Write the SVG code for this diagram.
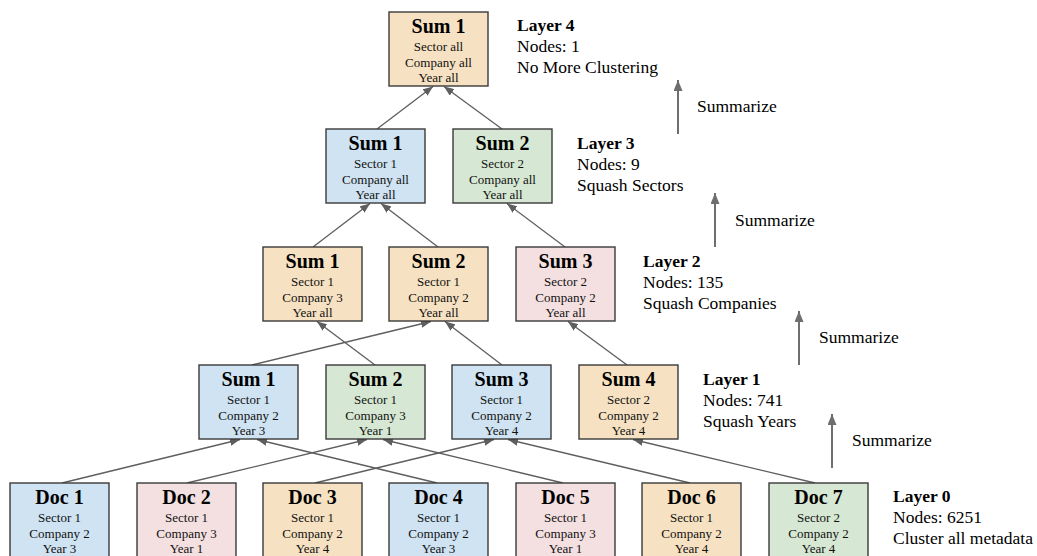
<svg xmlns="http://www.w3.org/2000/svg" width="1037" height="556" viewBox="0 0 1037 556">
<style>
.box{stroke:#3a3a3a;stroke-width:1.4}
.blue{fill:#cfe3f2}
.green{fill:#d6e8d3}
.orange{fill:#f6e2c2}
.pink{fill:#f4e0e1}
.t{font-family:"Liberation Serif","Times New Roman",serif;font-weight:bold;font-size:20px;fill:#000;text-anchor:middle}
.s{font-family:"Liberation Serif","Times New Roman",serif;font-size:13px;fill:#111;text-anchor:middle}
.lb{font-family:"Liberation Serif","Times New Roman",serif;font-size:17.5px;fill:#000}
.lbb{font-weight:bold}
.edge{stroke:#5e5e5e;stroke-width:1.3;fill:none;marker-end:url(#ah)}
.up{stroke:#6e6e6e;stroke-width:2;fill:none;marker-end:url(#ah2)}
</style>
<defs>
<marker id="ah" viewBox="0 0 10 8" refX="10" refY="4" markerWidth="10" markerHeight="8" orient="auto" markerUnits="userSpaceOnUse"><path d="M0,0 L10,4 L0,8 z" fill="#5e5e5e"/></marker>
<marker id="ah2" viewBox="0 0 11 9" refX="11" refY="4.5" markerWidth="11" markerHeight="9" orient="auto" markerUnits="userSpaceOnUse"><path d="M0,0 L11,4.5 L0,9 z" fill="#6e6e6e"/></marker>
</defs>
<rect width="1037" height="556" fill="#fff"/>

<g id="connectors">
<line class="edge" x1="62" y1="483" x2="240" y2="439.5"/>
<line class="edge" x1="437" y1="483" x2="257" y2="439.5"/>
<line class="edge" x1="187" y1="483" x2="367" y2="439.5"/>
<line class="edge" x1="563" y1="483" x2="383" y2="439.5"/>
<line class="edge" x1="315" y1="483" x2="494" y2="439.5"/>
<line class="edge" x1="690" y1="483" x2="508" y2="439.5"/>
<line class="edge" x1="815" y1="483" x2="633" y2="439.5"/>
<line class="edge" x1="252" y1="365" x2="431" y2="321.5"/>
<line class="edge" x1="375" y1="365" x2="317" y2="321.5"/>
<line class="edge" x1="502" y1="365" x2="445" y2="321.5"/>
<line class="edge" x1="627" y1="365" x2="568" y2="321.5"/>
<line class="edge" x1="313" y1="247" x2="370" y2="203.5"/>
<line class="edge" x1="438" y1="247" x2="381" y2="203.5"/>
<line class="edge" x1="565" y1="247" x2="507" y2="203.5"/>
<line class="edge" x1="377" y1="129" x2="433" y2="86.5"/>
<line class="edge" x1="502" y1="129" x2="444" y2="86.5"/>
<line class="up" x1="678" y1="134" x2="678" y2="80"/>
<line class="up" x1="715" y1="247" x2="715" y2="193"/>
<line class="up" x1="799" y1="365" x2="799" y2="311"/>
<line class="up" x1="832" y1="468" x2="832" y2="414"/>
</g>

<g id="summarize-labels">
<text class="lb" x="697" y="112">Summarize</text>
<text class="lb" x="735" y="226">Summarize</text>
<text class="lb" x="819" y="343">Summarize</text>
<text class="lb" x="852" y="446">Summarize</text>
</g>

<g id="layer-labels">
<text class="lb" x="517"><tspan class="lbb" x="517" y="31">Layer 4</tspan><tspan x="517" y="52">Nodes: 1</tspan><tspan x="517" y="73">No More Clustering</tspan></text>
<text class="lb" x="577"><tspan class="lbb" x="577" y="149">Layer 3</tspan><tspan x="577" y="170">Nodes: 9</tspan><tspan x="577" y="191">Squash Sectors</tspan></text>
<text class="lb" x="643"><tspan class="lbb" x="643" y="267">Layer 2</tspan><tspan x="643" y="288">Nodes: 135</tspan><tspan x="643" y="309">Squash Companies</tspan></text>
<text class="lb" x="703"><tspan class="lbb" x="703" y="385">Layer 1</tspan><tspan x="703" y="406">Nodes: 741</tspan><tspan x="703" y="427">Squash Years</tspan></text>
<text class="lb" x="893"><tspan class="lbb" x="893" y="502">Layer 0</tspan><tspan x="893" y="523">Nodes: 6251</tspan><tspan x="893" y="544">Cluster all metadata</tspan></text>
</g>

<g id="l4-sum1"><rect class="box orange" x="389" y="12" width="99" height="74"/><text class="t" x="438.5" y="33">Sum 1</text><text class="s" x="438.5" y="51">Sector all</text><text class="s" x="438.5" y="66.5">Company all</text><text class="s" x="438.5" y="82">Year all</text></g>

<g id="l3-sum1"><rect class="box blue" x="326" y="129" width="99" height="74"/><text class="t" x="375.5" y="150">Sum 1</text><text class="s" x="375.5" y="168">Sector 1</text><text class="s" x="375.5" y="183.5">Company all</text><text class="s" x="375.5" y="199">Year all</text></g>
<g id="l3-sum2"><rect class="box green" x="453" y="129" width="99" height="74"/><text class="t" x="502.5" y="150">Sum 2</text><text class="s" x="502.5" y="168">Sector 2</text><text class="s" x="502.5" y="183.5">Company all</text><text class="s" x="502.5" y="199">Year all</text></g>

<g id="l2-sum1"><rect class="box orange" x="263" y="247" width="99" height="74"/><text class="t" x="312.5" y="268">Sum 1</text><text class="s" x="312.5" y="286">Sector 1</text><text class="s" x="312.5" y="301.5">Company 3</text><text class="s" x="312.5" y="317">Year all</text></g>
<g id="l2-sum2"><rect class="box orange" x="389" y="247" width="99" height="74"/><text class="t" x="438.5" y="268">Sum 2</text><text class="s" x="438.5" y="286">Sector 1</text><text class="s" x="438.5" y="301.5">Company 2</text><text class="s" x="438.5" y="317">Year all</text></g>
<g id="l2-sum3"><rect class="box pink" x="516" y="247" width="99" height="74"/><text class="t" x="565.5" y="268">Sum 3</text><text class="s" x="565.5" y="286">Sector 2</text><text class="s" x="565.5" y="301.5">Company 2</text><text class="s" x="565.5" y="317">Year all</text></g>

<g id="l1-sum1"><rect class="box blue" x="199" y="365" width="99" height="74"/><text class="t" x="248.5" y="386">Sum 1</text><text class="s" x="248.5" y="404">Sector 1</text><text class="s" x="248.5" y="419.5">Company 2</text><text class="s" x="248.5" y="435">Year 3</text></g>
<g id="l1-sum2"><rect class="box green" x="326" y="365" width="99" height="74"/><text class="t" x="375.5" y="386">Sum 2</text><text class="s" x="375.5" y="404">Sector 1</text><text class="s" x="375.5" y="419.5">Company 3</text><text class="s" x="375.5" y="435">Year 1</text></g>
<g id="l1-sum3"><rect class="box blue" x="452" y="365" width="99" height="74"/><text class="t" x="501.5" y="386">Sum 3</text><text class="s" x="501.5" y="404">Sector 1</text><text class="s" x="501.5" y="419.5">Company 2</text><text class="s" x="501.5" y="435">Year 4</text></g>
<g id="l1-sum4"><rect class="box orange" x="579" y="365" width="99" height="74"/><text class="t" x="628.5" y="386">Sum 4</text><text class="s" x="628.5" y="404">Sector 2</text><text class="s" x="628.5" y="419.5">Company 2</text><text class="s" x="628.5" y="435">Year 4</text></g>

<g id="doc1"><rect class="box blue" x="10" y="483" width="99" height="74"/><text class="t" x="59.5" y="504">Doc 1</text><text class="s" x="59.5" y="522">Sector 1</text><text class="s" x="59.5" y="537.5">Company 2</text><text class="s" x="59.5" y="553">Year 3</text></g>
<g id="doc2"><rect class="box pink" x="137" y="483" width="99" height="74"/><text class="t" x="186.5" y="504">Doc 2</text><text class="s" x="186.5" y="522">Sector 1</text><text class="s" x="186.5" y="537.5">Company 3</text><text class="s" x="186.5" y="553">Year 1</text></g>
<g id="doc3"><rect class="box orange" x="263" y="483" width="99" height="74"/><text class="t" x="312.5" y="504">Doc 3</text><text class="s" x="312.5" y="522">Sector 1</text><text class="s" x="312.5" y="537.5">Company 2</text><text class="s" x="312.5" y="553">Year 4</text></g>
<g id="doc4"><rect class="box blue" x="389" y="483" width="99" height="74"/><text class="t" x="438.5" y="504">Doc 4</text><text class="s" x="438.5" y="522">Sector 1</text><text class="s" x="438.5" y="537.5">Company 2</text><text class="s" x="438.5" y="553">Year 3</text></g>
<g id="doc5"><rect class="box pink" x="516" y="483" width="99" height="74"/><text class="t" x="565.5" y="504">Doc 5</text><text class="s" x="565.5" y="522">Sector 1</text><text class="s" x="565.5" y="537.5">Company 3</text><text class="s" x="565.5" y="553">Year 1</text></g>
<g id="doc6"><rect class="box orange" x="642" y="483" width="99" height="74"/><text class="t" x="691.5" y="504">Doc 6</text><text class="s" x="691.5" y="522">Sector 1</text><text class="s" x="691.5" y="537.5">Company 2</text><text class="s" x="691.5" y="553">Year 4</text></g>
<g id="doc7"><rect class="box green" x="769" y="483" width="99" height="74"/><text class="t" x="818.5" y="504">Doc 7</text><text class="s" x="818.5" y="522">Sector 2</text><text class="s" x="818.5" y="537.5">Company 2</text><text class="s" x="818.5" y="553">Year 4</text></g>
</svg>
